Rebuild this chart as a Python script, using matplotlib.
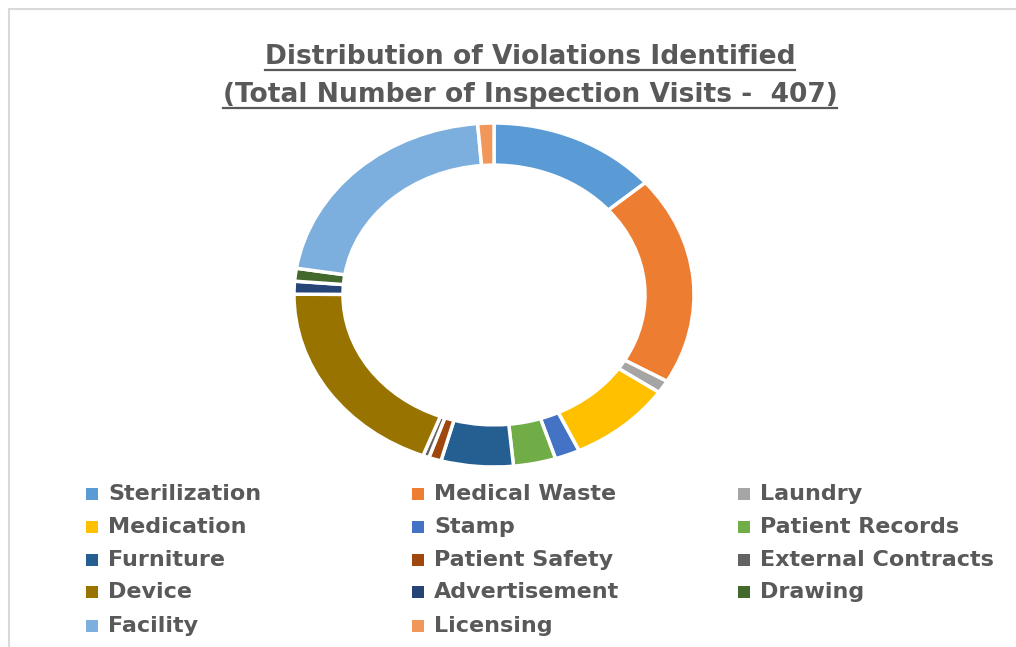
import matplotlib
matplotlib.use("Agg")
import matplotlib.pyplot as plt
from matplotlib.patches import Rectangle
from matplotlib.lines import Line2D

categories = ["Sterilization", "Medical Waste", "Laundry", "Medication", "Stamp",
              "Patient Records", "Furniture", "Patient Safety", "External Contracts",
              "Device", "Advertisement", "Drawing", "Facility", "Licensing"]
values = [13.6, 19.6, 1.2, 8.4, 2.0, 3.4, 5.8, 1.0, 0.5, 19.2, 1.2, 1.2, 21.1, 1.3]
colors = ["#5B9BD5", "#ED7D31", "#A5A5A5", "#FFC000", "#4472C4", "#70AD47",
          "#255E91", "#9E480E", "#636363", "#997300", "#264478", "#43682B",
          "#7CAFDD", "#F1975A"]
title_lines = ["Distribution of Violations Identified",
               "(Total Number of Inspection Visits -  407)"]

W, H = 1016, 647
fig = plt.figure(figsize=(W / 100, H / 100), dpi=100)
fig.patch.set_facecolor("white")

# outer frame (continues past the right and bottom edges)
fig.add_artist(Rectangle((9 / W, -0.2), 1.2, 1.2 - 9 / H + 0.0, transform=fig.transFigure,
                         fill=False, edgecolor="#D9D9D9", linewidth=1.5))

# donut axes (elliptical, as in reference)
cx, cy, rx, ry = 494, 295, 200, 172
ax = fig.add_axes([(cx - rx) / W, (H - cy - ry) / H, 2 * rx / W, 2 * ry / H])
ax.pie(values, colors=colors, startangle=90, counterclock=False, radius=1.0,
       wedgeprops=dict(width=0.245, edgecolor="white", linewidth=2.5))
ax.set_aspect("auto")
ax.set_xlim(-1, 1)
ax.set_ylim(-1, 1)
ax.axis("off")

# title with underline
title_y = [57, 95]
fig.canvas.draw()
renderer = fig.canvas.get_renderer()
for line, yy in zip(title_lines, title_y):
    t = fig.text(530 / W, 1 - yy / H, line, ha="center", va="center",
                 fontsize=19.1, fontweight="bold", color="#595959", family="DejaVu Sans")
    bb = t.get_window_extent(renderer=renderer)
    uy = 1 - (yy + 13) / H
    fig.add_artist(Line2D([bb.x0 / W, bb.x1 / W], [uy, uy], transform=fig.transFigure,
                          color="#595959", linewidth=1.6))

# legend (3 columns)
col_x = [86, 412, 738]
row_y = [494, 527, 560, 592, 626]
for i, (name, col) in enumerate(zip(categories, colors)):
    r, c = divmod(i, 3)
    x = col_x[c]
    y = row_y[r]
    fig.add_artist(Rectangle((x / W, 1 - (y + 6) / H), 12 / W, 12 / H,
                             transform=fig.transFigure, facecolor=col, edgecolor="none"))
    fig.text((x + 22) / W, 1 - y / H, name, ha="left", va="center", fontsize=16,
             fontweight="bold", color="#595959", family="DejaVu Sans")

fig.savefig("out.png", dpi=100)
